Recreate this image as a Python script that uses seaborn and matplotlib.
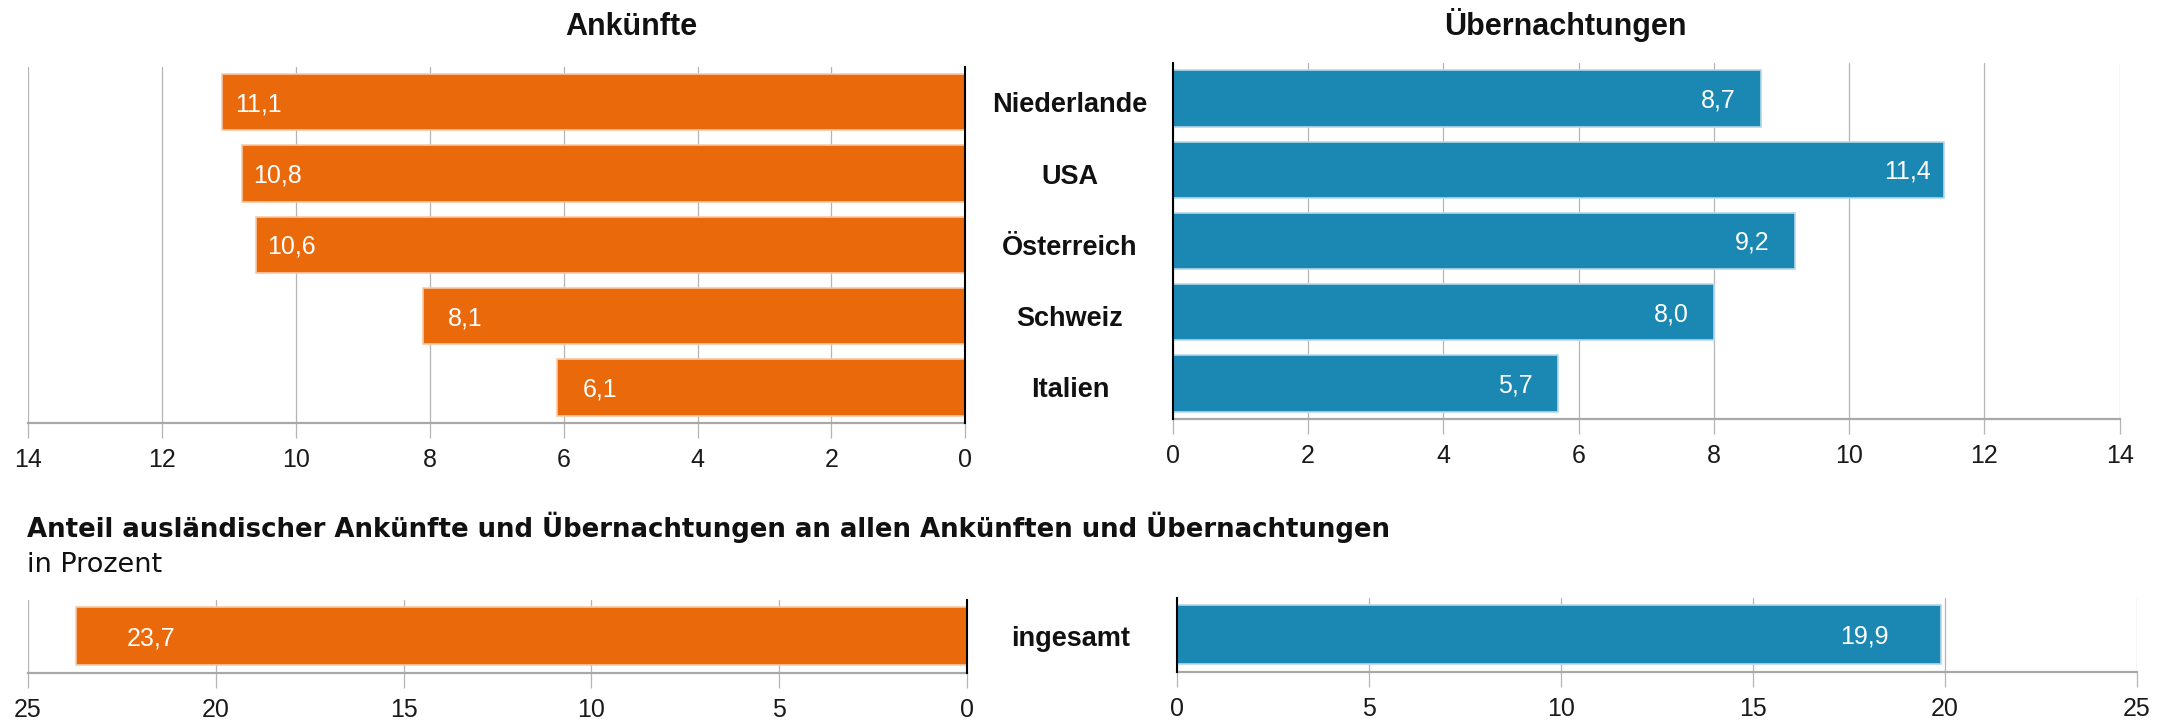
import matplotlib
matplotlib.use("Agg")
import matplotlib.pyplot as plt
import seaborn as sns
import pandas as pd

# data
laender = ["Niederlande", "USA", "Österreich", "Schweiz", "Italien"]
ankuenfte = [11.1, 10.8, 10.6, 8.1, 6.1]
uebernachtungen = [8.7, 11.4, 9.2, 8.0, 5.7]
gesamt = ["ingesamt"]
anteil_ankuenfte = [23.7]
anteil_uebernachtungen = [19.9]

ORANGE = "#EA690B"
ORANGE_EDGE = "#F7C9A6"
BLUE = "#1B87B3"
BLUE_EDGE = "#B7D8E8"
GRID = "#B4B4B4"

sns.set_theme(style="white")
plt.rcParams["font.family"] = ["Liberation Sans", "DejaVu Sans"]

W, H = 2167, 725
fig = plt.figure(figsize=(W / 100, H / 100), dpi=100)


def px_axes(x0, x1, y0, y1):
    return fig.add_axes([x0 / W, 1 - y1 / H, (x1 - x0) / W, (y1 - y0) / H])


def fmt(v):
    return f"{v:.1f}".replace(".", ",")


def panel(ax, cats, vals, color, edge, xmax, step, side, lab_off, bar_w):
    df = pd.DataFrame({"kat": cats, "wert": vals})
    sns.barplot(data=df, x="wert", y="kat", orient="h", color=color, saturation=1,
                width=bar_w, edgecolor=edge, linewidth=1.2, ax=ax, zorder=2)
    ax.set_ylim(len(cats) - 0.5, -0.5)
    if side == "left":
        ax.set_xlim(xmax, 0)
    else:
        ax.set_xlim(0, xmax)
    ax.set_xticks(range(0, xmax + 1, step))
    ax.set_xticklabels([str(t) for t in range(0, xmax + 1, step)])
    ax.set_yticks([])
    ax.set_xlabel("")
    ax.set_ylabel("")
    ax.grid(axis="x", color=GRID, linewidth=0.9)
    ax.set_axisbelow(True)
    ax.tick_params(axis="x", bottom=True, length=11, width=0.9, color=GRID,
                   labelsize=18, labelcolor="#1a1a1a", pad=7)
    for s in ["top", "left", "right"]:
        ax.spines[s].set_visible(False)
    ax.spines["bottom"].set_color("#A8A8A8")
    ax.spines["bottom"].set_linewidth(1.6)
    zero = "right" if side == "left" else "left"
    ax.spines[zero].set_visible(True)
    ax.spines[zero].set_color("black")
    ax.spines[zero].set_linewidth(1.5)
    ax.spines[zero].set_zorder(3)
    for i, v in enumerate(vals):
        if side == "left":
            ax.annotate(fmt(v), (v, i), xytext=(lab_off, -9), textcoords="offset pixels",
                        ha="right", va="baseline", color="white", fontsize=18, zorder=4)
        else:
            ax.annotate(fmt(v), (v, i), xytext=(-lab_off, -9), textcoords="offset pixels",
                        ha="left", va="baseline", color="white", fontsize=18, zorder=4)


ax_tl = px_axes(28.1, 965.3, 66.7, 423.0)
ax_tr = px_axes(1172.8, 2119.7, 62.7, 419.3)
ax_bl = px_axes(27.6, 967.4, 600.0, 672.7)
ax_br = px_axes(1176.7, 2136.7, 598.0, 671.7)

panel(ax_tl, laender, ankuenfte, ORANGE, ORANGE_EDGE, 14, 2, "left", 60, 0.79)
panel(ax_tr, laender, uebernachtungen, BLUE, BLUE_EDGE, 14, 2, "right", 60, 0.79)
panel(ax_bl, gesamt, anteil_ankuenfte, ORANGE, ORANGE_EDGE, 25, 5, "left", 99, 0.8)
panel(ax_br, gesamt, anteil_uebernachtungen, BLUE, BLUE_EDGE, 25, 5, "right", 101, 0.8)

# category labels between the panels
for i, name in enumerate(laender):
    ax_tl.annotate(name, (1070 / W, i), xycoords=("figure fraction", "data"),
                   xytext=(0, -10), textcoords="offset pixels", ha="center", va="baseline",
                   fontsize=19.5, fontweight="bold", color="#111111", annotation_clip=False)
for i, name in enumerate(gesamt):
    ax_bl.annotate(name, (1071 / W, i), xycoords=("figure fraction", "data"),
                   xytext=(0, -10), textcoords="offset pixels", ha="center", va="baseline",
                   fontsize=19.5, fontweight="bold", color="#111111", annotation_clip=False)

fig.text(631.7 / W, 1 - 35 / H, "Ankünfte", ha="center", va="baseline",
         fontsize=22, fontweight="bold", color="#111111")
fig.text(1565 / W, 1 - 35 / H, "Übernachtungen", ha="center", va="baseline",
         fontsize=22, fontweight="bold", color="#111111")
# the lower heading uses a wider face to match the original's extent
fig.text(26.7 / W, 1 - 536.7 / H,
         "Anteil ausländischer Ankünfte und Übernachtungen an allen Ankünften und Übernachtungen",
         ha="left", va="baseline", fontsize=18.7, fontweight="bold", color="#111111",
         family=["DejaVu Sans"])
fig.text(26.7 / W, 1 - 571.7 / H, "in Prozent", ha="left", va="baseline",
         fontsize=19.5, color="#111111", family=["DejaVu Sans"])

fig.savefig("out.png", dpi=100)
